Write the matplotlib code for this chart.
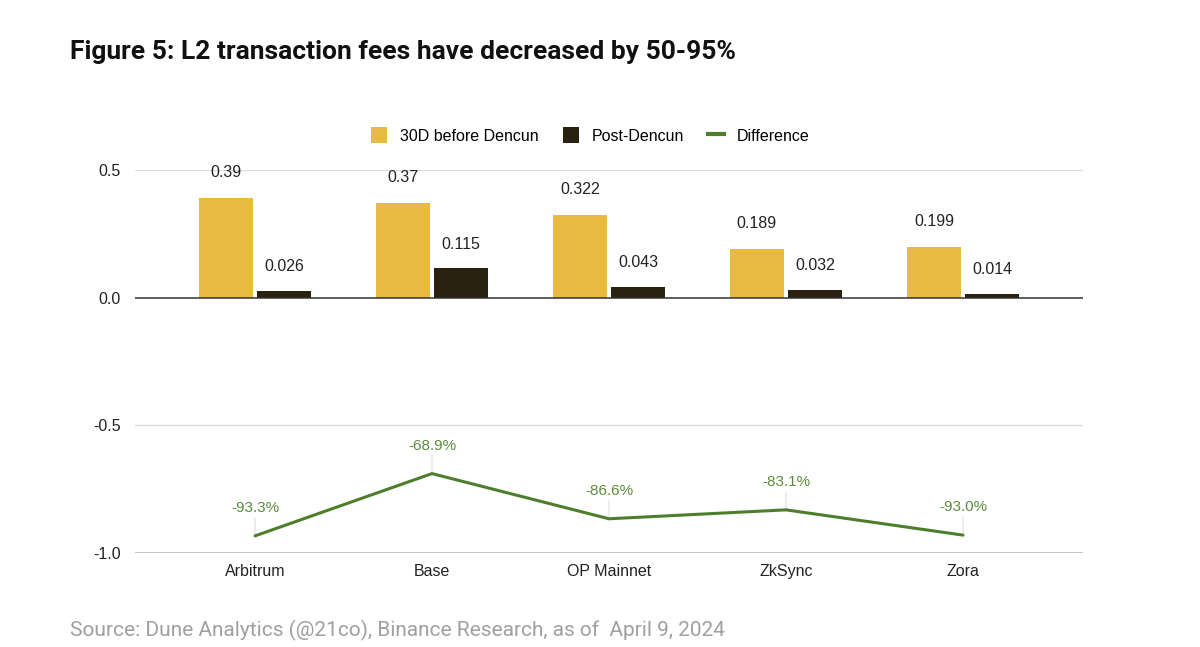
import matplotlib
matplotlib.use("Agg")
import matplotlib.pyplot as plt
import numpy as np
from matplotlib.lines import Line2D
from matplotlib.patches import Patch

categories = ["Arbitrum", "Base", "OP Mainnet", "ZkSync", "Zora"]
before = [0.39, 0.37, 0.322, 0.189, 0.199]
post = [0.026, 0.115, 0.043, 0.032, 0.014]
difference = [-0.933, -0.689, -0.866, -0.831, -0.930]
yticks = [0.5, 0.0, -0.5, -1.0]
ytick_labels = ["0.5", "0.0", "-0.5", "-1.0"]

c_before = "#E8BA40"
c_post = "#2A2110"
c_diff = "#4E7E2C"
c_difftxt = "#5C8C3C"

fig = plt.figure(figsize=(12, 6.47), dpi=100)
ax = fig.add_axes([0.1125, 0.1453, 0.79, 0.5919])

x = np.arange(len(categories))
w = 0.305
gap = 0.012
ax.bar(x - w / 2 - gap, before, width=w, color=c_before, zorder=3)
ax.bar(x + w / 2 + gap, post, width=w, color=c_post, zorder=3)

for xi, v in zip(x, before):
    ax.annotate(f"{v:g}", (xi - w / 2 - gap, v), xytext=(0, 13), textcoords="offset points",
                ha="center", va="bottom", fontsize=11.5, family="Liberation Sans", color="#222222")
for xi, v in zip(x, post):
    ax.annotate(f"{v:g}", (xi + w / 2 + gap, v), xytext=(0, 12), textcoords="offset points",
                ha="center", va="bottom", fontsize=11.5, family="Liberation Sans", color="#222222")

ax.plot(x, difference, color=c_diff, lw=2.2, zorder=4, solid_capstyle="round")
for xi, v in zip(x, difference):
    ax.annotate(f"{v*100:.1f}%", (xi, v), xytext=(0, 15), textcoords="offset points",
                ha="center", va="bottom", fontsize=11, family="Liberation Sans", color=c_difftxt,
                arrowprops=dict(arrowstyle="-", color="#dddddd", lw=0.8, shrinkA=0, shrinkB=0))

ax.set_ylim(-1.0, 0.5)
ax.set_xlim(-0.678, 4.678)
ax.set_yticks(yticks)
ax.set_yticklabels(ytick_labels, fontsize=11.5, family="Liberation Sans", color="#222222")
ax.set_xticks(x)
ax.set_xticklabels(categories, fontsize=11.5, family="Liberation Sans", color="#222222")
ax.tick_params(length=0, pad=8)
ax.tick_params(axis="y", pad=10)
for s in ax.spines.values():
    s.set_visible(False)
ax.axhline(0.5, color="#dddddd", lw=1, zorder=1)
ax.axhline(-0.5, color="#dddddd", lw=1, zorder=1)
ax.axhline(0.0, color="#333333", lw=1.1, zorder=5)
ax.axhline(-1.0, color="#bbbbbb", lw=1.2, zorder=1)
ax.set_facecolor("white")

handles = [Patch(facecolor=c_before, edgecolor="none", label="30D before Dencun"),
           Patch(facecolor=c_post, edgecolor="none", label="Post-Dencun"),
           Line2D([0], [0], color=c_diff, lw=3, label="Difference")]
fig.legend(handles=handles, loc="center", bbox_to_anchor=(0.492, 0.791), ncol=3, frameon=False,
           prop={"family": "Liberation Sans", "size": 11.5}, handlelength=1.0, handleheight=1.2,
           columnspacing=1.5, handletextpad=0.8)

fig.text(0.058, 0.92, "Figure 5: L2 transaction fees have decreased by 50-95%", fontsize=19,
         fontweight="bold", family="Roboto", color="#111111", va="center")
fig.text(0.058, 0.025, "Source: Dune Analytics (@21co), Binance Research, as of  April 9, 2024", fontsize=15,
         family="Roboto", color="#a0a0a0", va="center")

fig.savefig("out.png", dpi=100, facecolor="white")
